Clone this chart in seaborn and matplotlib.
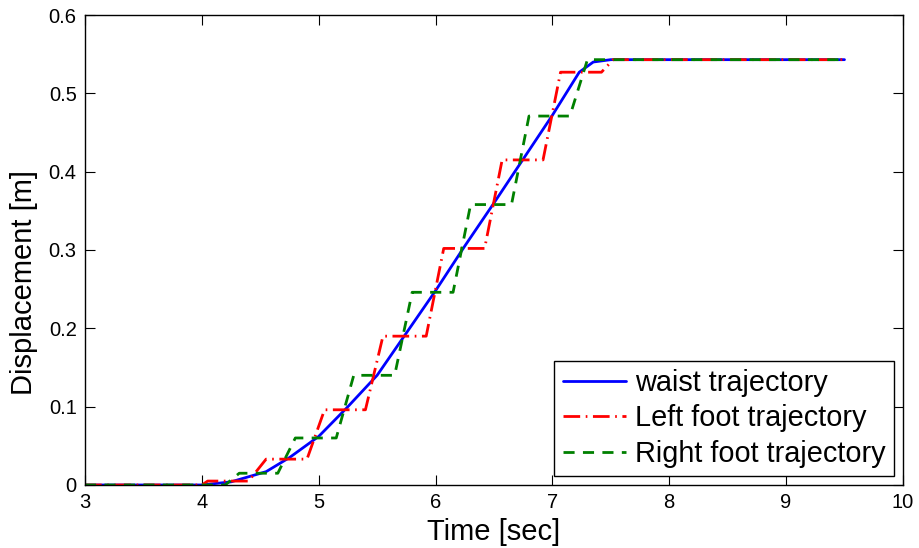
import matplotlib
matplotlib.use("Agg")
import matplotlib.pyplot as plt
import seaborn as sns

# waist (centre of mass) trajectory
waist_t = [3.0, 4.0, 4.25, 4.55, 4.75, 5.0, 5.25, 5.5, 5.75, 6.0, 6.25, 6.5,
           6.75, 7.0, 7.23, 7.35, 7.5, 9.5]
waist_x = [0.0, 0.0, 0.004, 0.017, 0.035, 0.062, 0.1, 0.14, 0.194, 0.248, 0.305, 0.36,
           0.416, 0.472, 0.527, 0.54, 0.543, 0.543]

# left foot: stance phases with short swings in between
left_t = [3.0, 4.0, 4.05, 4.4, 4.55, 4.9, 5.05, 5.4, 5.55, 5.92, 6.07, 6.42,
          6.57, 6.92, 7.07, 7.42, 7.52, 9.5]
left_x = [0.0, 0.0, 0.005, 0.005, 0.033, 0.033, 0.096, 0.096, 0.19, 0.19, 0.302, 0.302,
          0.415, 0.415, 0.527, 0.527, 0.543, 0.543]

# right foot
right_t = [3.0, 4.2, 4.32, 4.65, 4.8, 5.15, 5.3, 5.65, 5.8, 6.15, 6.3, 6.65,
           6.8, 7.15, 7.3, 9.5]
right_x = [0.0, 0.0, 0.015, 0.015, 0.06, 0.06, 0.14, 0.14, 0.246, 0.246, 0.358, 0.358,
           0.471, 0.471, 0.543, 0.543]

sns.set_style("ticks")
plt.rcParams['font.family'] = ['Liberation Sans', 'DejaVu Sans']
plt.rcParams['text.color'] = 'black'
plt.rcParams['axes.labelcolor'] = 'black'

fig = plt.figure(figsize=(9.19, 5.48), dpi=100)
ax = fig.add_axes([0.0925, 0.115, 0.89, 0.8576])

sns.lineplot(x=waist_t, y=waist_x, ax=ax, color=(0, 0, 1), lw=2, label='waist trajectory')
sns.lineplot(x=left_t, y=left_x, ax=ax, color=(1, 0, 0), lw=2,
             dashes=(6, 2, 0.6, 2), label='Left foot trajectory')
sns.lineplot(x=right_t, y=right_x, ax=ax, color=(0, 0.5, 0), lw=2,
             dashes=(4, 3), label='Right foot trajectory')

ax.set_xlim(3, 10)
ax.set_ylim(0, 0.6)
ax.set_xticks(range(3, 11))
ax.set_yticks([0, 0.1, 0.2, 0.3, 0.4, 0.5, 0.6])
ax.set_yticklabels(['0', '0.1', '0.2', '0.3', '0.4', '0.5', '0.6'])
ax.tick_params(direction='in', length=7, width=0.8, labelsize=14.5, colors='black',
               top=True, right=True, pad=6)
for s in ax.spines.values():
    s.set_color('black')
    s.set_linewidth(1.0)

ax.set_xlabel('Time [sec]', fontsize=21, labelpad=4)
ax.set_ylabel('Displacement [m]', fontsize=21)
ax.yaxis.set_label_coords(-0.058, 0.43)

leg = ax.legend(loc='lower right', fontsize=20.8, fancybox=False, framealpha=1,
                edgecolor='black', handlelength=2.2, handletextpad=0.3,
                labelspacing=0.25, borderpad=0.3, borderaxespad=0.3)
leg.get_frame().set_linewidth(1.0)

fig.savefig('out.png', dpi=100)
